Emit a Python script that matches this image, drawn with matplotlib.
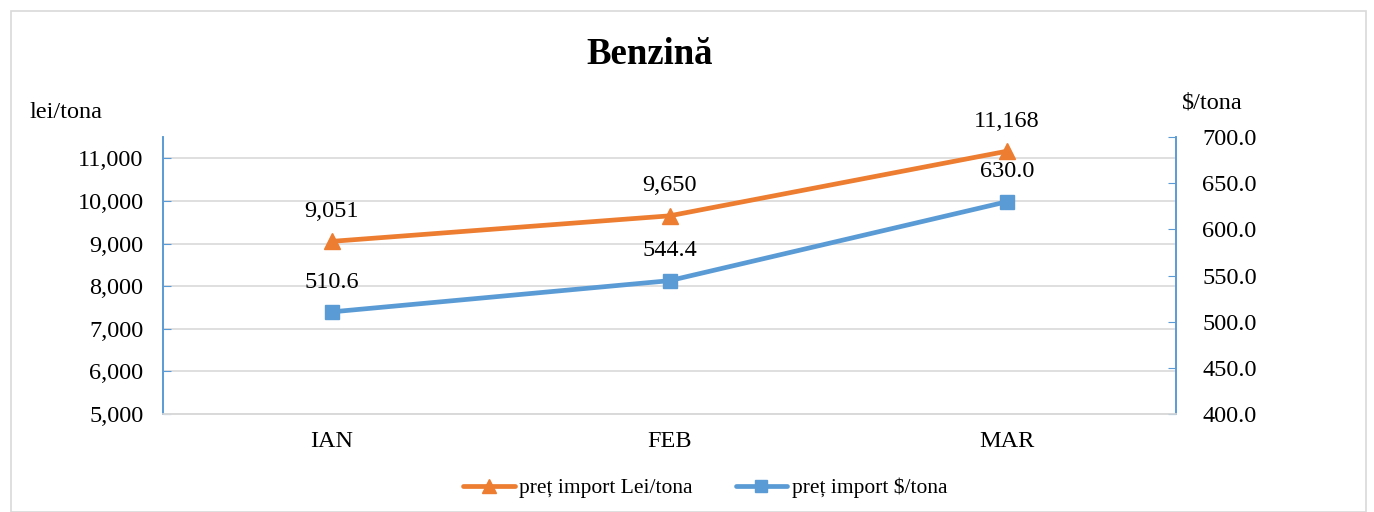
import matplotlib
matplotlib.use("Agg")
import matplotlib.pyplot as plt
import numpy as np
from matplotlib.patches import Rectangle
from matplotlib.lines import Line2D

plt.rcParams['font.family'] = ['Liberation Serif', 'DejaVu Serif']

categories = ["IAN", "FEB", "MAR"]
lei_values = [9051, 9650, 11168]
usd_values = [510.6, 544.4, 630.0]
lei_labels = ["9,051", "9,650", "11,168"]
usd_labels = ["510.6", "544.4", "630.0"]
left_ticks = [5000, 6000, 7000, 8000, 9000, 10000, 11000]
right_ticks = [400, 450, 500, 550, 600, 650, 700]

ORANGE = "#ED7D31"
BLUE = "#5B9BD5"
GRID = "#D9D9D9"
FS = 17.5

fig = plt.figure(figsize=(13.74, 5.12), dpi=100)
fig.patches.append(Rectangle((11/1374, 0), 1355/1374, 1 - 11/512, transform=fig.transFigure,
                             fill=False, edgecolor="#D9D9D9", linewidth=1.2))

ax = fig.add_axes([163/1374, 1 - 414/512, (1176 - 163)/1374, (414 - 137)/512])
ax2 = ax.twinx()

x = np.arange(len(categories))

ax.set_xlim(-0.5, 2.5)
ax.set_ylim(5000, 11500)
ax2.set_ylim(400, 700)

ax.set_yticks(left_ticks)
ax.set_yticklabels([f"{v:,}" for v in left_ticks], fontsize=FS)
ax2.set_yticks(right_ticks)
ax2.set_yticklabels([f"{v:.1f}" for v in right_ticks], fontsize=FS)
ax.set_xticks(x)
ax.set_xticklabels(categories, fontsize=FS)
ax.tick_params(axis='x', length=0, pad=12)
ax.tick_params(axis='y', direction='in', length=6, color=BLUE, pad=14)
ax2.tick_params(axis='y', direction='in', length=6, color=BLUE, pad=19)

ax.grid(axis='y', color=GRID, linewidth=1.2)
ax.set_axisbelow(True)
for a in (ax, ax2):
    a.spines['top'].set_visible(False)
    a.spines['bottom'].set_color(GRID)
    a.spines['bottom'].set_linewidth(1.2)
    a.spines['left'].set_color(BLUE)
    a.spines['right'].set_color(BLUE)
    a.spines['left'].set_linewidth(1.2)
    a.spines['right'].set_linewidth(1.2)
ax2.patch.set_visible(False)

ax.plot(x, lei_values, color=ORANGE, lw=3.4, marker='^', markersize=12,
        solid_capstyle='round', zorder=3)
ax2.plot(x, usd_values, color=BLUE, lw=3.4, marker='s', markersize=10.5,
         solid_capstyle='round', zorder=3)

for xi, v, lab in zip(x, lei_values, lei_labels):
    ax.annotate(lab, (xi, v), xytext=(0, 21.5), textcoords='offset points',
                ha='center', va='center', fontsize=FS)
for xi, v, lab in zip(x, usd_values, usd_labels):
    ax2.annotate(lab, (xi, v), xytext=(0, 21.5), textcoords='offset points',
                 ha='center', va='center', fontsize=FS)

fig.text(650/1374, 1 - 64/512, "Benzină", ha='center', va='baseline', fontsize=26.5, fontweight='bold')
fig.text(30/1374, 1 - 112/512, "lei/tona", ha='left', va='center', fontsize=FS)
fig.text(1182/1374, 1 - 103/512, "$/tona", ha='left', va='center', fontsize=FS)

handles = [Line2D([0], [0], color=ORANGE, lw=3.4, marker='^', markersize=10, solid_capstyle='round'),
           Line2D([0], [0], color=BLUE, lw=3.4, marker='s', markersize=9, solid_capstyle='round')]
fig.legend(handles, ["preț import Lei/tona", "preț import $/tona"], loc='center',
           bbox_to_anchor=(705/1374, 1 - 488/512), ncol=2, frameon=False, fontsize=15.5,
           handlelength=2.4, handletextpad=0.2, columnspacing=2.0, borderpad=0)

fig.savefig("out.png", dpi=100)
